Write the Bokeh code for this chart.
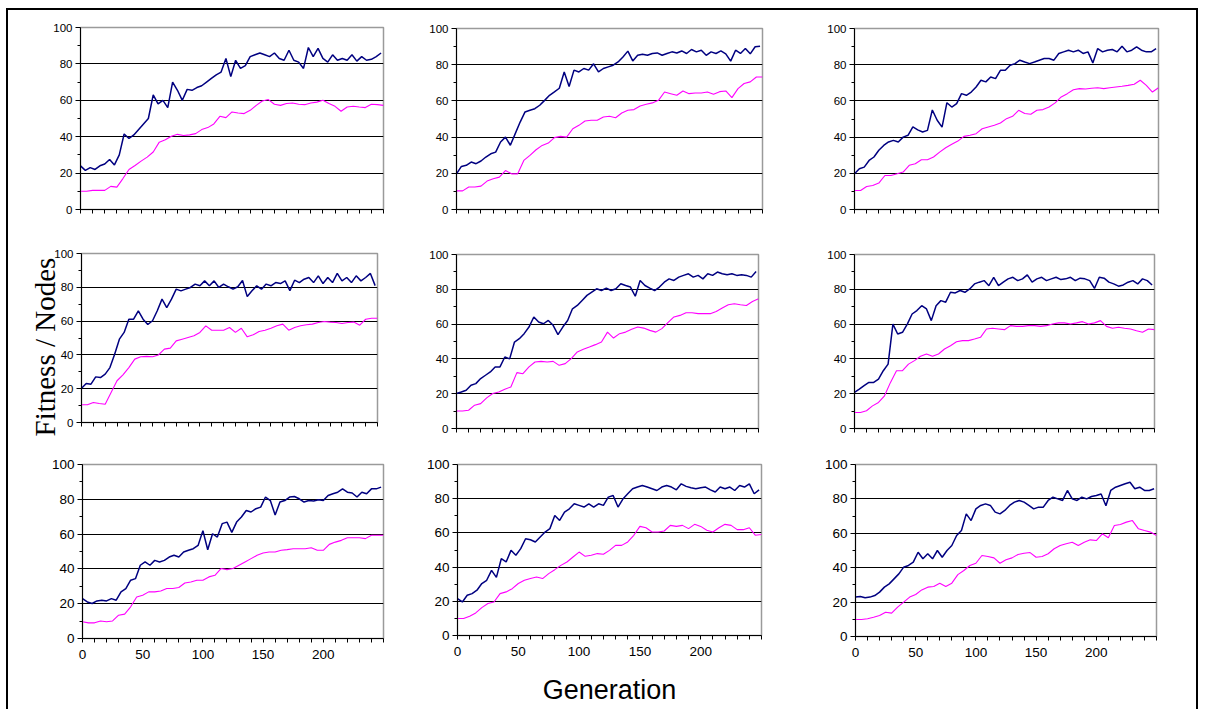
from bokeh.embed import file_html
from bokeh.layouts import column, row
from bokeh.models import FixedTicker, Range1d, Title
from bokeh.plotting import figure
from bokeh.resources import INLINE

# ---------------------------------------------------------------------------
# Data: best fitness (navy) and node count (magenta) per run, sampled every
# FITNESS_STEP / NODES_STEP generations.
# ---------------------------------------------------------------------------
FITNESS_STEP = 4
NODES_STEP = 5
GEN_MAX = 250

fitness_1 = [
    24, 21.5, 23, 22, 24, 25, 27.5, 24.5,
    30, 41.5, 39, 41, 44, 47, 50, 63,
    58, 60, 56, 70, 65.5, 60, 66, 65.5,
    67, 68, 70, 72, 74, 75.5, 83, 73,
    82, 77.5, 79, 84, 85, 86, 85, 84,
    86, 83, 82, 87.5, 82, 81, 77.5, 89,
    84, 88.5, 83, 81, 85, 82, 83, 82,
    85, 81.5, 84, 82, 82.5, 84, 86,
]
nodes_1 = [
    10, 10, 10.5, 10.5, 10.5, 12.7, 12.3, 17, 22, 24.2,
    26.6, 28.8, 31.6, 37, 38.3, 40.2, 41.3, 40.7, 41, 41.7,
    43.9, 45, 47, 51.2, 50.5, 53.6, 53, 52.7, 54.5, 57.2,
    59.6, 60.4, 57.8, 57.2, 58.2, 58.5, 57.8, 57.6, 58.5, 59,
    60, 58.2, 56.7, 54, 56.3, 56.7, 56.3, 56, 57.8, 57.6,
    57.2,
]

fitness_2 = [
    19.7, 23.8, 24.4, 26.2, 25.3, 26.8, 29, 30.8,
    31.7, 37.3, 40, 35.5, 41.9, 48.3, 53.9, 54.8,
    55.7, 57.6, 60.3, 63.1, 65, 67, 76, 68,
    77, 76, 77.9, 77, 80.5, 76, 77.9, 78.8,
    79.7, 81.5, 84.3, 87.5, 82.1, 85.2, 85.8, 85.2,
    86.2, 86.5, 85.2, 86.2, 87.1, 86.5, 87.6, 86.2,
    88.4, 87.1, 88, 85.2, 87.1, 86.2, 87.6, 86,
    82, 88, 86.2, 88.9, 86, 89.9, 90.2,
]
nodes_2 = [
    10.3, 10.3, 12.4, 12.4, 12.9, 15.7, 17, 17.9, 21.5, 19.7,
    19.7, 27.1, 29.9, 33, 35.4, 36.7, 39.7, 40.4, 40, 44.6,
    46.5, 48.9, 49.3, 49.3, 51.1, 51.5, 50.7, 53.3, 54.8, 55.2,
    57.2, 58.1, 58.9, 60.3, 64.9, 64, 63.1, 65.5, 64, 64.4,
    64.4, 64.9, 63.7, 65.1, 65.5, 61.8, 66.8, 69.6, 70.5, 73.2,
    73.2,
]

fitness_3 = [
    19.7, 22.5, 23.4, 27.1, 29, 32.7, 35.4, 37.3,
    38.2, 37.3, 40, 41, 45.6, 44, 42.8, 43.7,
    55, 49.3, 45.5, 59, 56.6, 58.5, 64, 63.1,
    64.9, 67.7, 71.4, 70.5, 73.2, 72.3, 76.9, 76.9,
    79.7, 80.6, 82.5, 81.5, 80.6, 81.5, 82.5, 83.4,
    83.4, 82.5, 86.2, 87.1, 88, 87.1, 88, 86.2,
    87.1, 81, 88.9, 87.1, 88, 88.4, 87.1, 90.2,
    87.1, 88, 89.9, 88, 87.1, 87.1, 88.9,
]
nodes_3 = [
    10.5, 10.5, 12.7, 13.3, 14.6, 18.8, 18.8, 19.7, 20.7, 24.4,
    25.3, 27.5, 27.5, 29, 31.7, 34.1, 36, 37.8, 40.4, 41,
    41.9, 44.6, 45.6, 46.5, 47.8, 50.2, 51.5, 54.8, 53, 52.6,
    54.8, 55.2, 56.6, 58.9, 62.2, 64, 66.2, 66.8, 66.6, 67,
    67.3, 66.8, 67.3, 67.7, 68.1, 68.6, 69.2, 71.4, 68.6, 64.9,
    67.3,
]

fitness_4 = [
    20.3, 23.1, 22.7, 27, 26.6, 28.6, 32.5, 40.4,
    49.3, 53.3, 61.1, 61.1, 66.1, 61.1, 58, 60.2,
    66.1, 73, 68, 73, 78.9, 77.9, 78.9, 79.9,
    81.9, 80.9, 83.8, 80.9, 83.8, 79.9, 81.9, 80.3,
    78.9, 80.3, 84, 74.5, 77.9, 80.9, 78.9, 81.9,
    80.9, 82.8, 82.2, 83.8, 78, 84.2, 82.8, 84.8,
    85.8, 82.8, 86.8, 82.2, 85.8, 82.8, 88.2, 83.8,
    85.8, 82.8, 86.8, 83.8, 85.8, 88.2, 81,
]
nodes_4 = [
    10.5, 10.5, 11.8, 11.2, 10.8, 17.8, 24.7, 28.2, 32.5, 37.5,
    38.9, 39.1, 38.9, 40, 43.4, 44, 48.3, 49.3, 50.3, 51.3,
    53.3, 57.2, 54.6, 54.6, 54.6, 56.2, 53.3, 55.8, 50.7, 51.9,
    53.8, 54.6, 55.8, 57.2, 58.2, 54.6, 56.2, 57.2, 57.8, 58.2,
    59.2, 59.8, 59.4, 59.2, 58.6, 59.2, 59.4, 57.6, 61.1, 61.7,
    61.7,
]

fitness_5 = [
    20.1, 21, 22, 24.9, 25.8, 28.7, 30.6, 32.5,
    35.4, 35.4, 41.1, 40, 49.7, 51.6, 54.5, 58.3,
    64.1, 61.2, 60.2, 62.1, 59.3, 54, 58.3, 62.1,
    68.8, 70.7, 73.6, 76.5, 78.4, 80.3, 79.3, 80.7,
    79.3, 80.3, 83.2, 82.2, 81.3, 76, 85.1, 82.2,
    80.7, 79.3, 81.3, 84.1, 86, 85.1, 87, 88,
    88.9, 87, 88, 86, 88.9, 88, 89.9, 88.9,
    88.3, 88.9, 88, 88.3, 88, 87, 90.2,
]
nodes_5 = [
    10.1, 10.1, 10.5, 13.4, 14.3, 17.6, 20.1, 21, 22.6, 23.9,
    32.1, 31.5, 35.4, 38.2, 38.6, 38.2, 38.6, 36.3, 37.3, 40.2,
    44, 45.5, 46.8, 48.2, 49.7, 55.4, 52, 54.5, 55.4, 57,
    58.3, 57.7, 56.4, 55.4, 57.4, 60.8, 64.1, 65, 66.5, 66.5,
    66, 66, 66, 67.3, 69.2, 71.1, 71.7, 71.1, 70.7, 73,
    74.6,
]

fitness_6 = [
    20.7, 22.6, 24.6, 26.5, 26.5, 28.4, 33.2, 37,
    60, 54.3, 55.3, 60, 65.8, 67.8, 70.6, 68.7,
    62, 70.6, 73.5, 72.6, 78.3, 77.9, 79.3, 78.3,
    80.2, 83.1, 84.1, 85, 82.1, 86.9, 82.1, 84.1,
    86, 86.9, 85, 86, 88.3, 84.1, 86, 86.9,
    85, 86, 86.9, 85.6, 86, 86.9, 85, 86.4,
    86, 85, 80.5, 86.9, 86.4, 84.1, 83.1, 81.8,
    82.5, 84.1, 85, 83.1, 86, 85, 82.5,
]
nodes_6 = [
    9.2, 9.2, 10.2, 13, 15, 18.8, 26.5, 33.2, 33.2, 37,
    39, 41.5, 42.8, 41.5, 42.8, 45.7, 47.6, 49.9, 50.5, 50.5,
    51.4, 52.4, 57.2, 57.6, 57.2, 56.8, 59.1, 58.7, 58.7, 59.1,
    59.1, 58.7, 59.1, 60.1, 60.7, 60.7, 60.1, 60.7, 61.4, 60.1,
    60.7, 62, 58.7, 57.6, 58.2, 57.6, 57.2, 56.2, 55.3, 57.2,
    56.8,
]

fitness_7 = [
    22.9, 21, 20.1, 21.6, 22, 21.6, 22.9, 22,
    26.8, 28.7, 33.5, 34.4, 42.1, 44, 42.1, 44.9,
    44, 44.9, 46.8, 47.8, 46.8, 49.7, 50.7, 51.6,
    53.5, 62, 51, 60.2, 58.3, 66, 66.9, 61,
    66.9, 69.8, 73.6, 72.7, 74.6, 75.5, 81.3, 79.3,
    71, 78.4, 79.3, 81.3, 81.6, 80.3, 78.4, 79.3,
    79, 79.7, 79.3, 82.2, 83.2, 84.1, 86, 84.1,
    83.6, 81.3, 84.1, 83.2, 86, 86, 87,
]
nodes_7 = [
    9.6, 9, 9, 10.1, 9.6, 10.1, 13.4, 14, 18.2, 23.9,
    24.9, 26.8, 26.8, 27.3, 28.7, 28.7, 29.3, 31.9, 32.5, 33.5,
    33.5, 35.4, 36.3, 40.2, 39.6, 40.2, 42.1, 44, 45.9, 47.8,
    49.1, 49.7, 49.7, 50.7, 51.1, 51.6, 51.6, 51.6, 52.2, 50.7,
    50.7, 54.1, 55.4, 56.4, 57.9, 57.9, 57.9, 57.4, 59.3, 59.3,
    59.3,
]

fitness_8 = [
    21.6, 19.6, 23.5, 24.5, 26.5, 30.4, 32.3, 38.1,
    34, 44.9, 43, 49.8, 46.9, 50.8, 56.6, 56,
    54.7, 57.6, 60.5, 62.5, 70.2, 67.3, 72.2, 74.1,
    77, 76.1, 75.1, 77, 75.1, 77, 76.1, 80.9,
    81.9, 75.1, 79.8, 82.9, 85.8, 86.8, 87.7, 86.8,
    85.8, 84.8, 86.8, 87.7, 86.8, 85.2, 88.7, 87.2,
    86.4, 85.8, 86.4, 86.8, 85.2, 83.9, 86.8, 85.8,
    86.8, 84.8, 87.7, 86.8, 88.7, 82.9, 85.2,
]
nodes_8 = [
    9.9, 9.9, 11.3, 13.2, 16.3, 18.7, 19.6, 24.5, 25.5, 27.4,
    30.4, 32.3, 33.3, 34.2, 33.3, 36.2, 38.5, 41, 43, 45.9,
    48.8, 46.3, 46.9, 47.9, 47.5, 49.8, 52.7, 52.7, 54.7, 58.6,
    63.8, 63, 60.5, 60.5, 61.1, 64.4, 63.8, 64.4, 62.5, 65,
    63.8, 61.5, 60.5, 63, 65, 64.4, 61.9, 61.9, 63, 58.6,
    59.1,
]

fitness_9 = [
    22.9, 23.3, 22.5, 22.9, 23.8, 25.8, 28.7, 30.6,
    33.5, 36.4, 40.3, 41.3, 43.2, 49, 45.2, 48.1,
    45.2, 50, 46.1, 50, 52.9, 58.7, 61.6, 71.3,
    67.4, 74.2, 76.2, 77.1, 76.2, 72.3, 71.3, 73.3,
    76.2, 78.1, 79.1, 78.1, 76.2, 74.2, 75.2, 75.2,
    79.1, 81, 80, 79.1, 84.9, 80, 79.1, 81,
    80, 81.4, 82, 82.9, 76, 84.9, 86.8, 87.8,
    88.8, 89.7, 85.9, 86.8, 84.9, 84.9, 85.9,
]
nodes_9 = [
    9.9, 9.9, 10.3, 11.2, 12.2, 14.1, 13.6, 17.1, 20, 22.9,
    24.4, 27.1, 28.7, 29.1, 31, 29.1, 31, 36, 38.4, 41.3,
    42.6, 47.1, 46.5, 45.7, 42.6, 44.6, 45.7, 47.7, 48.4, 48.8,
    46.1, 46.5, 48.1, 51, 52.9, 53.9, 54.8, 52.9, 54.8, 56.2,
    55.8, 59.7, 57.4, 64.5, 65.1, 66.5, 67.4, 62.6, 61.6, 60.7,
    58.7,
]

fitness_runs = [fitness_1, fitness_2, fitness_3, fitness_4, fitness_5,
                fitness_6, fitness_7, fitness_8, fitness_9]
nodes_runs = [nodes_1, nodes_2, nodes_3, nodes_4, nodes_5,
              nodes_6, nodes_7, nodes_8, nodes_9]

x_ticks = list(range(0, GEN_MAX + 1, 10))
x_labelled = [0, 50, 100, 150, 200]
y_ticks = [0, 20, 40, 60, 80, 100]
y_minor = [10, 30, 50, 70, 90]
y_grid = [20, 40, 60, 80]

Y_TITLE = "Fitness / Nodes"
X_TITLE = "Generation"

NAVY = "#000080"
MAGENTA = "#FF00FF"
FONT = "Liberation Sans"

# Page geometry (pixels, page coordinates).  Cells: column/row spans.
COLS = [(8, 420), (420, 815), (815, 1196)]
ROWS = [(10, 232), (232, 450), (450, 709)]
# Plot-area rectangles (left, top, right, bottom) for each of the 9 panels.
FRAMES = [
    (80, 27, 383, 209), (456, 28, 762, 209), (854, 28, 1158, 209),
    (81, 253, 377, 422), (456, 254, 758, 428), (854, 254, 1154, 428),
    (82, 464, 383, 638), (457, 464, 761, 635), (855, 464, 1156, 636),
]


def make_panel(idx):
    r, c = divmod(idx, 3)
    cx0, cx1 = COLS[c]
    cy0, cy1 = ROWS[r]
    fx0, fy0, fx1, fy1 = FRAMES[idx]
    bottom_row = r == 2
    tick_size = "13.5px" if bottom_row else "11.5px"

    p = figure(
        width=cx1 - cx0, height=cy1 - cy0,
        x_range=Range1d(0, GEN_MAX), y_range=Range1d(0, 100),
        output_backend="svg", toolbar_location=None,
        min_border=0,
        min_border_left=fx0 - cx0, min_border_right=cx1 - fx1,
        min_border_top=fy0 - cy0, min_border_bottom=cy1 - fy1,
        background_fill_color="white", border_fill_color="white",
    )
    # each plot keeps its own plot-area position inside a row
    try:
        p.frame_align = False
    except (AttributeError, ValueError):
        pass
    p.outline_line_color = "#9a9a9a"
    p.outline_line_width = 1.5

    # x axis: a tick every 10 generations, labels every 50 on the bottom row
    xa = p.xaxis[0]
    xa.ticker = FixedTicker(ticks=x_ticks)
    xa.major_label_overrides = {
        t: (str(t) if (bottom_row and t in x_labelled) else "") for t in x_ticks
    }
    xa.major_tick_in = 0
    xa.major_tick_out = 4
    xa.minor_tick_out = 0
    xa.minor_tick_in = 0
    xa.axis_line_color = "black"
    xa.major_tick_line_color = "black"
    xa.major_label_text_font = FONT
    xa.major_label_text_font_size = tick_size
    xa.major_label_text_color = "black"
    xa.major_label_standoff = 7

    # y axis: labels every 20, minor ticks in between
    ya = p.yaxis[0]
    ya.ticker = FixedTicker(ticks=y_ticks, minor_ticks=y_minor)
    ya.major_tick_in = 0
    ya.major_tick_out = 5
    ya.minor_tick_in = 0
    ya.minor_tick_out = 3
    ya.axis_line_color = "black"
    ya.major_tick_line_color = "black"
    ya.minor_tick_line_color = "black"
    ya.major_label_text_font = FONT
    ya.major_label_text_font_size = tick_size
    ya.major_label_text_color = "black"
    ya.major_label_standoff = 3

    p.xgrid.visible = False
    p.ygrid.ticker = FixedTicker(ticks=y_grid)
    p.ygrid.grid_line_color = "black"
    p.ygrid.grid_line_width = 1

    fit = fitness_runs[idx]
    nodes = nodes_runs[idx]
    gen_fit = [i * FITNESS_STEP for i in range(len(fit))]
    gen_nodes = [i * NODES_STEP for i in range(len(nodes))]
    p.line(gen_nodes, nodes, line_color=MAGENTA, line_width=1.1)
    p.line(gen_fit, fit, line_color=NAVY, line_width=1.5)
    return p


panels = [make_panel(i) for i in range(9)]

# Vertical title, placed in the left side panel of the middle-left plot and
# started a little below that plot's bottom edge.
y_title = Title(
    text=Y_TITLE, align="left", vertical_align="bottom", offset=-14,
    text_font="Liberation Serif", text_font_size="29px",
    text_font_style="normal", text_color="black",
)
try:
    y_title.standoff = -18
except ValueError:
    y_title.standoff = 0
panels[3].add_layout(y_title, "left")

# Horizontal title under the bottom-centre plot
xa_mid = panels[7].xaxis[0]
xa_mid.axis_label = X_TITLE
xa_mid.axis_label_text_font = FONT
xa_mid.axis_label_text_font_size = "27px"
xa_mid.axis_label_text_font_style = "normal"
xa_mid.axis_label_text_color = "black"
xa_mid.axis_label_standoff = 16

page = column(
    row(panels[0:3], spacing=0),
    row(panels[3:6], spacing=0),
    row(panels[6:9], spacing=0),
    spacing=0,
    margin=(8, 0, 0, 6),
    styles={
        "border-left": "2px solid black",
        "border-top": "2px solid black",
        "border-right": "2px solid black",
        "background-color": "white",
    },
)

open("out.html", "w").write(file_html(page, INLINE))
